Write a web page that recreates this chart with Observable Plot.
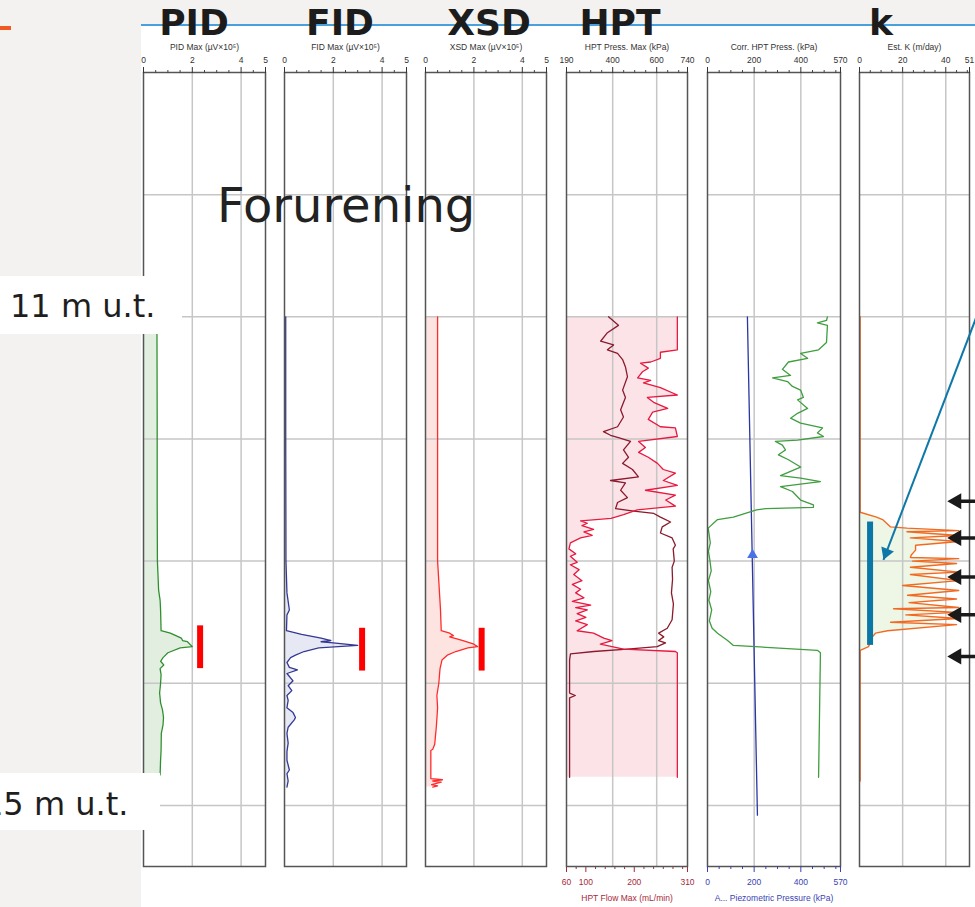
<!DOCTYPE html>
<html><head><meta charset="utf-8">
<script src="https://cdn.jsdelivr.net/npm/d3@7"></script>
<script src="https://cdn.jsdelivr.net/npm/@observablehq/plot@0.6"></script>
<style>
html,body{margin:0;padding:0;width:975px;height:907px;overflow:hidden;background:#f3f2f0;}
#stage{position:relative;width:975px;height:907px;overflow:hidden;}
#sheet{position:absolute;left:141px;top:26px;width:834px;height:881px;background:#fff;}
#topline{position:absolute;left:141px;top:24px;width:834px;height:2px;background:#4aa0dc;}
#dash{position:absolute;left:0;top:26px;width:11px;height:4px;background:#f05a22;}
</style></head><body><div id="stage"><div id="sheet"></div><div id="topline"></div><div id="dash"></div></div>
<script>
// ---------- data (depth in m, value in track units) ----------
const depthGrid = [10, 11, 12, 13, 14, 15];
const tickPID = [0, 2, 4, 5];
const minorPID = [0.5, 1, 1.5, 2.5, 3, 3.5, 4.5];
const tickPress = [190, 400, 600, 740];
const minorPress = [250, 300, 350, 450, 500, 550, 650, 700];
const tickFlow = [60, 100, 200, 310];
const minorFlow = [80, 120, 140, 160, 180, 220, 240, 260, 280, 300];
const tickCorr = [0, 200, 400, 570];
const minorCorr = [50, 100, 150, 250, 300, 350, 450, 500, 550];
const tickK = [0, 20, 40, 51];
const minorK = [5, 10, 15, 25, 30, 35, 45, 50];

const pid = [[11.00,0.55],[11.80,0.56],[12.50,0.56],[13.00,0.57],[13.24,0.62],[13.32,0.68],[13.40,0.7],[13.57,0.72],[13.59,1.1],[13.63,1.55],[13.65,1.6],[13.66,1.8],[13.70,2.0],[13.71,1.5],[13.75,1.0],[13.79,0.8],[13.82,0.7],[13.85,0.83],[13.88,0.68],[13.93,0.72],[14.00,0.7],[14.08,0.66],[14.16,0.7],[14.22,0.78],[14.28,0.82],[14.34,0.8],[14.41,0.73],[14.55,0.72],[14.63,0.7],[14.75,0.68]];
const fid = [[11.00,0.05],[12.00,0.05],[13.00,0.06],[13.26,0.1],[13.40,0.2],[13.44,0.1],[13.57,0.08],[13.60,0.7],[13.63,1.5],[13.65,1.9],[13.66,1.5],[13.67,2.0],[13.69,3.0],[13.70,2.2],[13.71,1.4],[13.74,0.8],[13.77,0.45],[13.79,0.25],[13.83,0.1],[13.87,0.2],[13.89,0.53],[13.92,0.1],[13.98,0.35],[14.02,0.15],[14.06,0.3],[14.10,0.1],[14.14,0.15],[14.20,0.1],[14.24,0.35],[14.28,0.45],[14.30,0.4],[14.36,0.15],[14.41,0.1],[14.49,0.15],[14.56,0.1],[14.63,0.1],[14.71,0.2],[14.74,0.1],[14.80,0.15],[14.85,0.1]];
const xsd = [[11.00,0.5],[12.00,0.5],[13.00,0.5],[13.40,0.62],[13.57,0.65],[13.59,1.0],[13.61,1.15],[13.62,1.0],[13.65,1.55],[13.68,2.0],[13.70,2.15],[13.71,1.75],[13.74,1.25],[13.77,0.9],[13.81,0.68],[13.88,0.6],[14.00,0.55],[14.10,0.47],[14.20,0.5],[14.35,0.45],[14.50,0.38],[14.54,0.3],[14.55,0.22],[14.78,0.22],[14.79,0.7],[14.80,0.3],[14.81,0.65],[14.83,0.25],[14.84,0.5],[14.85,0.3]];
const hptPress = [[11.00,381],[11.07,426],[11.13,376],[11.20,345],[11.23,404],[11.27,376],[11.30,422],[11.35,445],[11.41,458],[11.49,467],[11.60,445],[11.66,458],[11.76,436],[11.82,449],[11.90,422],[11.94,358],[11.97,390],[11.99,426],[12.02,481],[12.09,449],[12.15,472],[12.20,445],[12.25,490],[12.31,517],[12.34,390],[12.36,458],[12.42,436],[12.48,467],[12.52,422],[12.57,413],[12.59,496],[12.61,587],[12.64,617],[12.68,663],[12.72,625],[12.77,617],[12.81,670],[12.87,685],[12.90,675],[13.00,680],[13.05,670],[13.15,672],[13.26,667],[13.35,676],[13.48,670],[13.55,648],[13.59,609],[13.62,632],[13.65,609],[13.67,640],[13.70,602],[13.72,466],[13.74,314],[13.76,208],[13.81,204],[14.08,204],[14.10,230],[14.12,204],[14.77,204]];
const hptFlow = [[11.00,289],[11.27,289],[11.29,254],[11.34,254],[11.37,234],[11.38,213],[11.42,229],[11.45,217],[11.50,207],[11.52,234],[11.54,219],[11.58,254],[11.64,289],[11.66,227],[11.70,240],[11.75,269],[11.78,238],[11.84,229],[11.90,254],[11.91,285],[11.98,289],[12.02,209],[12.07,223],[12.11,209],[12.15,229],[12.20,248],[12.25,260],[12.28,285],[12.34,260],[12.38,289],[12.42,223],[12.46,285],[12.50,265],[12.55,285],[12.58,206],[12.62,178],[12.65,152],[12.67,89],[12.69,103],[12.71,92],[12.74,116],[12.76,96],[12.79,113],[12.81,89],[12.85,68],[12.90,65],[12.94,79],[12.96,68],[13.01,82],[13.03,68],[13.07,86],[13.11,75],[13.16,92],[13.19,72],[13.23,89],[13.26,79],[13.30,96],[13.33,72],[13.36,110],[13.38,79],[13.40,103],[13.43,82],[13.46,100],[13.49,79],[13.52,103],[13.57,82],[13.59,116],[13.63,137],[13.65,154],[13.68,130],[13.72,178],[13.74,285],[13.75,289],[14.77,289]];
const corr = [[11.00,514],[11.03,510],[11.05,471],[11.07,514],[11.21,510],[11.27,476],[11.30,399],[11.34,429],[11.37,347],[11.43,321],[11.48,356],[11.50,279],[11.53,343],[11.57,364],[11.60,399],[11.66,411],[11.68,386],[11.75,429],[11.79,386],[11.83,356],[11.87,399],[11.91,493],[11.95,471],[11.98,497],[12.01,386],[12.02,291],[12.05,321],[12.09,334],[12.13,304],[12.17,347],[12.23,399],[12.30,313],[12.32,399],[12.35,484],[12.39,313],[12.43,364],[12.50,399],[12.54,454],[12.56,454],[12.57,249],[12.58,210],[12.64,111],[12.66,43],[12.73,3],[12.85,12],[12.92,4],[12.99,10],[13.08,16],[13.16,4],[13.25,14],[13.32,6],[13.40,18],[13.49,8],[13.55,20],[13.59,43],[13.65,86],[13.69,111],[13.73,471],[13.75,484],[14.77,476]];
const piezo = [[11.00,171],[15.08,214]];
const waterLevel = [[12.95,193]];
const kEst = [[11.00,0.3],[12.60,0.3],[12.64,7.9],[12.66,10.7],[12.72,14.4],[12.73,22],[12.75,46],[12.76,22],[12.79,46],[12.81,23.6],[12.84,46],[12.87,26],[12.91,26],[12.95,24],[12.97,23.6],[12.98,46],[13.00,24.6],[13.02,45],[13.05,23.6],[13.09,46],[13.11,23.6],[13.16,46],[13.20,20],[13.24,46],[13.28,22.3],[13.31,45],[13.34,23],[13.38,46],[13.39,15.8],[13.42,45],[13.44,21.5],[13.47,46],[13.50,14.4],[13.52,45],[13.57,13],[13.59,7.4],[13.62,6],[13.70,4.2],[13.73,0.3],[14.80,0.3]];
// markers / annotations
const pidMarker = [{v: 2.32, d1: 13.53, d2: 13.88}];
const fidMarker = [{v: 3.18, d1: 13.55, d2: 13.90}];
const xsdMarker = [{v: 2.32, d1: 13.55, d2: 13.90}];
const kMarker = [{v: 4.9, d1: 12.68, d2: 13.69}];
const kPointer = [{x1: 59, y1: 10.78, x2: 11.1, y2: 12.99}];
const kArrowDepths = [12.51, 12.81, 13.13, 13.44, 13.78];
const kArrowTip = 40.7;
const kArrowTail = 62;

const rows = a => a.map(([d, v]) => ({d, v}));

// ---------- helpers ----------
const stage = document.getElementById("stage");
const FONT = "Liberation Sans, Arial, Helvetica, sans-serif";
function grid(majorInner) {
  return [
    Plot.gridX({ticks: majorInner, stroke: "#c6c6c6", strokeOpacity: 1, strokeWidth: 1.5}),
    Plot.gridY({ticks: depthGrid, stroke: "#c6c6c6", strokeOpacity: 1, strokeWidth: 1.5})
  ];
}
function axisTop(ticks, minor, title, color = "#333") {
  return [
    Plot.axisX({anchor: "top", ticks: minor, tickSize: 3, tickFormat: () => "", color: "#444", label: null}),
    Plot.axisX({anchor: "top", ticks, tickSize: 6, tickPadding: 4, fontSize: 8.5, color, label: null, tickFormat: d => `${d}`}),
    Plot.text([title], {text: d => d, frameAnchor: "top", dy: -29, fontSize: 8.5, fill: color})
  ];
}
function axisBottom(ticks, minor, title, color) {
  return [
    Plot.axisX({anchor: "bottom", ticks: minor, tickSize: 3, tickFormat: () => "", color, label: null}),
    Plot.axisX({anchor: "bottom", ticks, tickSize: 6, tickPadding: 6, fontSize: 8.5, color, label: null, tickFormat: d => `${d}`}),
    Plot.text([title], {text: d => d, frameAnchor: "bottom", dy: 34, fontSize: 8.5, fill: color})
  ];
}
const frame = () => Plot.frame({stroke: "#555", strokeWidth: 1.5});
function track(left, w, domain, marks, xAxisNull = false) {
  const ml = 20, mr = 30;
  const svg = Plot.plot({
    width: ml + w + mr, height: 907,
    marginLeft: ml, marginRight: mr, marginTop: 72, marginBottom: 41,
    x: xAxisNull ? {domain, axis: null} : {domain},
    y: {domain: [9, 15.5], reverse: true, axis: null},
    style: {background: "transparent", overflow: "visible", fontFamily: FONT, color: "#333"},
    marks
  });
  svg.style.position = "absolute";
  svg.style.left = (left - ml) + "px";
  svg.style.top = "0px";
  svg.style.maxWidth = "none";
  stage.appendChild(svg);
}
function marker(data, color, w = 6) {
  return Plot.ruleX(data, {x: "v", y1: "d1", y2: "d2", stroke: color, strokeWidth: w});
}

// ---------- PID ----------
track(143, 122, [0, 5], [
  Plot.areaX(rows(pid), {x1: 0, x2: "v", y: "d", fill: "#e2eee0"}),
  ...grid([2, 4]),
  Plot.lineX(rows(pid), {x: "v", y: "d", stroke: "#2f8f2f", strokeWidth: 1.3}),
  marker(pidMarker, "#ff0000"),
  frame(),
  ...axisTop(tickPID, minorPID, "PID Max (µV×10⁵)")
]);
// ---------- FID ----------
track(284, 122, [0, 5], [
  Plot.areaX(rows(fid), {x1: 0, x2: "v", y: "d", fill: "#e6e8f3"}),
  ...grid([2, 4]),
  Plot.lineX(rows(fid), {x: "v", y: "d", stroke: "#343894", strokeWidth: 1.3}),
  marker(fidMarker, "#ff0000"),
  frame(),
  ...axisTop(tickPID, minorPID, "FID Max (µV×10⁵)")
]);
// ---------- XSD ----------
track(425, 121, [0, 5], [
  Plot.areaX(rows(xsd), {x1: 0, x2: "v", y: "d", fill: "#fde4e1"}),
  ...grid([2, 4]),
  Plot.lineX(rows(xsd), {x: "v", y: "d", stroke: "#ff2b2b", strokeWidth: 1.3}),
  marker(xsdMarker, "#ff0000"),
  frame(),
  ...axisTop(tickPID, minorPID, "XSD Max (µV×10⁵)")
]);
// ---------- HPT (flow scale: fill + bottom axis) ----------
track(566, 121, [60, 310], [
  Plot.areaX(rows(hptFlow), {x1: 60, x2: "v", y: "d", fill: "#fce3e8"}),
  ...axisBottom(tickFlow, minorFlow, "HPT Flow Max (mL/min)", "#a8283a")
]);
// ---------- HPT (pressure scale) ----------
track(566, 121, [190, 740], [
  ...grid([400, 600]),
  Plot.lineX(rows(hptPress), {x: "v", y: "d", stroke: "#8a1a2c", strokeWidth: 1.3}),
  frame(),
  ...axisTop(tickPress, minorPress, "HPT Press. Max (kPa)")
]);
// ---------- HPT flow line ----------
track(566, 121, [60, 310], [
  Plot.lineX(rows(hptFlow), {x: "v", y: "d", stroke: "#e8193f", strokeWidth: 1.3})
], true);
// ---------- Corr. HPT press ----------
track(707, 133, [0, 570], [
  ...grid([200, 400]),
  Plot.lineX(rows(piezo), {x: "v", y: "d", stroke: "#2a35a6", strokeWidth: 1.3}),
  Plot.dot(rows(waterLevel), {x: "v", y: "d", symbol: "triangle", r: 4, fill: "#4a72e6", stroke: "none"}),
  Plot.lineX(rows(corr), {x: "v", y: "d", stroke: "#3f9e3f", strokeWidth: 1.3}),
  frame(),
  ...axisTop(tickCorr, minorCorr, "Corr. HPT Press. (kPa)"),
  ...axisBottom(tickCorr, minorCorr, "A... Piezometric Pressure (kPa)", "#3a3fb4")
]);
// ---------- Est. K ----------
track(859, 110, [0, 51], [
  Plot.areaX(rows(kEst), {x1: 0, x2: "v", y: "d", fill: "#eef6e6"}),
  ...grid([20, 40]),
  Plot.lineX(rows(kEst), {x: "v", y: "d", stroke: "#f26a22", strokeWidth: 1.4}),
  marker(kMarker, "#0b77a6", 6),
  frame(),
  ...axisTop(tickK, minorK, "Est. K (m/day)"),
  Plot.link(kPointer, {x1: "x1", y1: "y1", x2: "x2", y2: "y2", stroke: "#0e78a8", strokeWidth: 2}),
  Plot.dot(kPointer, {x: "x2", y: "y2", symbol: "triangle", r: 5, rotate: 201, dx: 2.8, dy: -7.3, fill: "#0e78a8", stroke: "none"}),
  Plot.ruleY(kArrowDepths, {y: d => d, x1: kArrowTip + 3, x2: kArrowTail, stroke: "#1a1a1a", strokeWidth: 3.5}),
  Plot.dot(kArrowDepths, {y: d => d, x: kArrowTip, symbol: "triangle", r: 6, rotate: -90, dx: 9.3, fill: "#1a1a1a", stroke: "none"})
]);

// ---------- overlay text ----------
const NS = "http://www.w3.org/2000/svg";
const ov = document.createElementNS(NS, "svg");
ov.setAttribute("width", 975); ov.setAttribute("height", 907);
ov.style.position = "absolute"; ov.style.left = "0"; ov.style.top = "0";
stage.appendChild(ov);
function el(tag, attrs, txt) {
  const e = document.createElementNS(NS, tag);
  for (const k in attrs) e.setAttribute(k, attrs[k]);
  if (txt != null) e.textContent = txt;
  ov.appendChild(e);
  return e;
}
const titles = [["PID", 194], ["FID", 340], ["XSD", 489], ["HPT", 620], ["k", 881]];
for (const [t, x] of titles)
  el("text", {x, y: 35, "text-anchor": "middle", "font-family": "DejaVu Sans, Verdana, sans-serif", "font-weight": "bold", "font-size": 36, fill: "#1c1c1c"}, t);
el("text", {x: 217, y: 222, "font-family": "DejaVu Sans, Verdana, sans-serif", "font-size": 48, fill: "#222"}, "Forurening");
el("rect", {x: 0, y: 276, width: 182, height: 58, fill: "#fff"});
el("text", {x: 10, y: 317, "font-family": "DejaVu Sans, Verdana, sans-serif", "font-size": 32, fill: "#1e1e1e"}, "11 m u.t.");
el("rect", {x: 0, y: 773, width: 160, height: 57, fill: "#fff"});
el("text", {x: -17, y: 815, "font-family": "DejaVu Sans, Verdana, sans-serif", "font-size": 32, fill: "#1e1e1e"}, "15 m u.t.");
</script></body></html>
